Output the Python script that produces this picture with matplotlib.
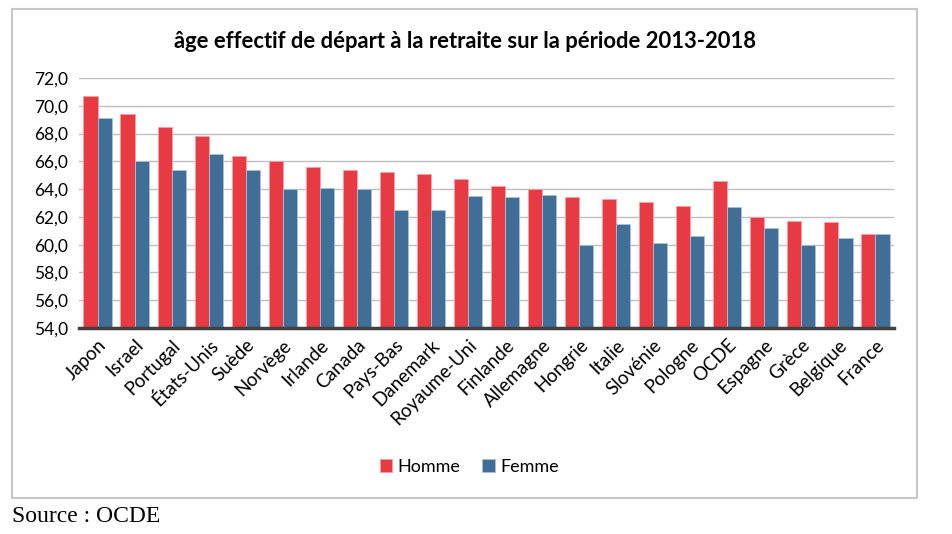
import numpy as np
import matplotlib.pyplot as plt
from matplotlib.patches import Rectangle
from matplotlib.ticker import FuncFormatter

pays = ['Japon', 'Israel', 'Portugal', 'États-Unis', 'Suède', 'Norvège', 'Irlande',
        'Canada', 'Pays-Bas', 'Danemark', 'Royaume-Uni', 'Finlande', 'Allemagne',
        'Hongrie', 'Italie', 'Slovénie', 'Pologne', 'OCDE', 'Espagne', 'Grèce',
        'Belgique', 'France']
homme = [70.7, 69.4, 68.5, 67.8, 66.4, 66.0, 65.6, 65.4, 65.2, 65.1, 64.7, 64.2,
         64.0, 63.4, 63.3, 63.1, 62.8, 64.6, 62.0, 61.7, 61.6, 60.8]
femme = [69.1, 66.0, 65.4, 66.5, 65.4, 64.0, 64.1, 64.0, 62.5, 62.5, 63.5, 63.4,
         63.6, 60.0, 61.5, 60.1, 60.6, 62.7, 61.2, 60.0, 60.5, 60.8]
yticks = np.arange(54, 73, 2)

rouge = '#E83A43'
bleu = '#416E96'

plt.rcParams['font.family'] = ['Lato', 'DejaVu Sans']

fig = plt.figure(figsize=(9.52, 5.34), dpi=100)
ax = fig.add_axes([79/952, 1-328/534, 815/952, 250/534])

x = np.arange(len(pays))
w = 0.38
ax.bar(x - w/2, homme, w, color=rouge, edgecolor='#F7A0A5', linewidth=0.6, label='Homme', zorder=3)
ax.bar(x + w/2, femme, w, color=bleu, edgecolor='#A9C0D6', linewidth=0.6, label='Femme', zorder=3)

ax.set_ylim(54, 72)
ax.set_xlim(-0.5, len(pays) - 0.5)
ax.set_yticks(yticks)
ax.yaxis.set_major_formatter(FuncFormatter(lambda v, p: f'{v:.1f}'.replace('.', ',')))
ax.grid(axis='y', color='#BFBFBF', linewidth=1, zorder=0)
for s in ['top', 'right', 'left']:
    ax.spines[s].set_visible(False)
ax.spines['bottom'].set_color('#404040')
ax.spines['bottom'].set_linewidth(2.5)
ax.spines['bottom'].set_zorder(4)
ax.tick_params(axis='both', length=0, colors='black')
ax.tick_params(axis='y', pad=8, labelsize=12.5)
ax.tick_params(axis='x', pad=6, labelsize=13.5)
ax.set_xticks(x)
ax.set_xticklabels(pays, rotation=45, ha='right', rotation_mode='anchor')

fig.text(0.488, 1-42/534, 'âge effectif de départ à la retraite sur la période 2013-2018',
         ha='center', va='center', fontsize=15.8, fontweight='bold')

fig.legend(loc='center', bbox_to_anchor=(0.493, 1-467/534), ncol=2, frameon=False,
           fontsize=13, handlelength=0.7, handleheight=0.7, handletextpad=0.3, columnspacing=1.2)

fig.patches.append(Rectangle((12/952, 1-498/534), 905/952, 489/534, transform=fig.transFigure,
                             fill=False, edgecolor='#C8C8C8', linewidth=1.5))

fig.text(12/952, 1-516/534, 'Source : OCDE', ha='left', va='center', fontsize=17,
         family='Liberation Serif')

fig.savefig('out.png', dpi=100)
